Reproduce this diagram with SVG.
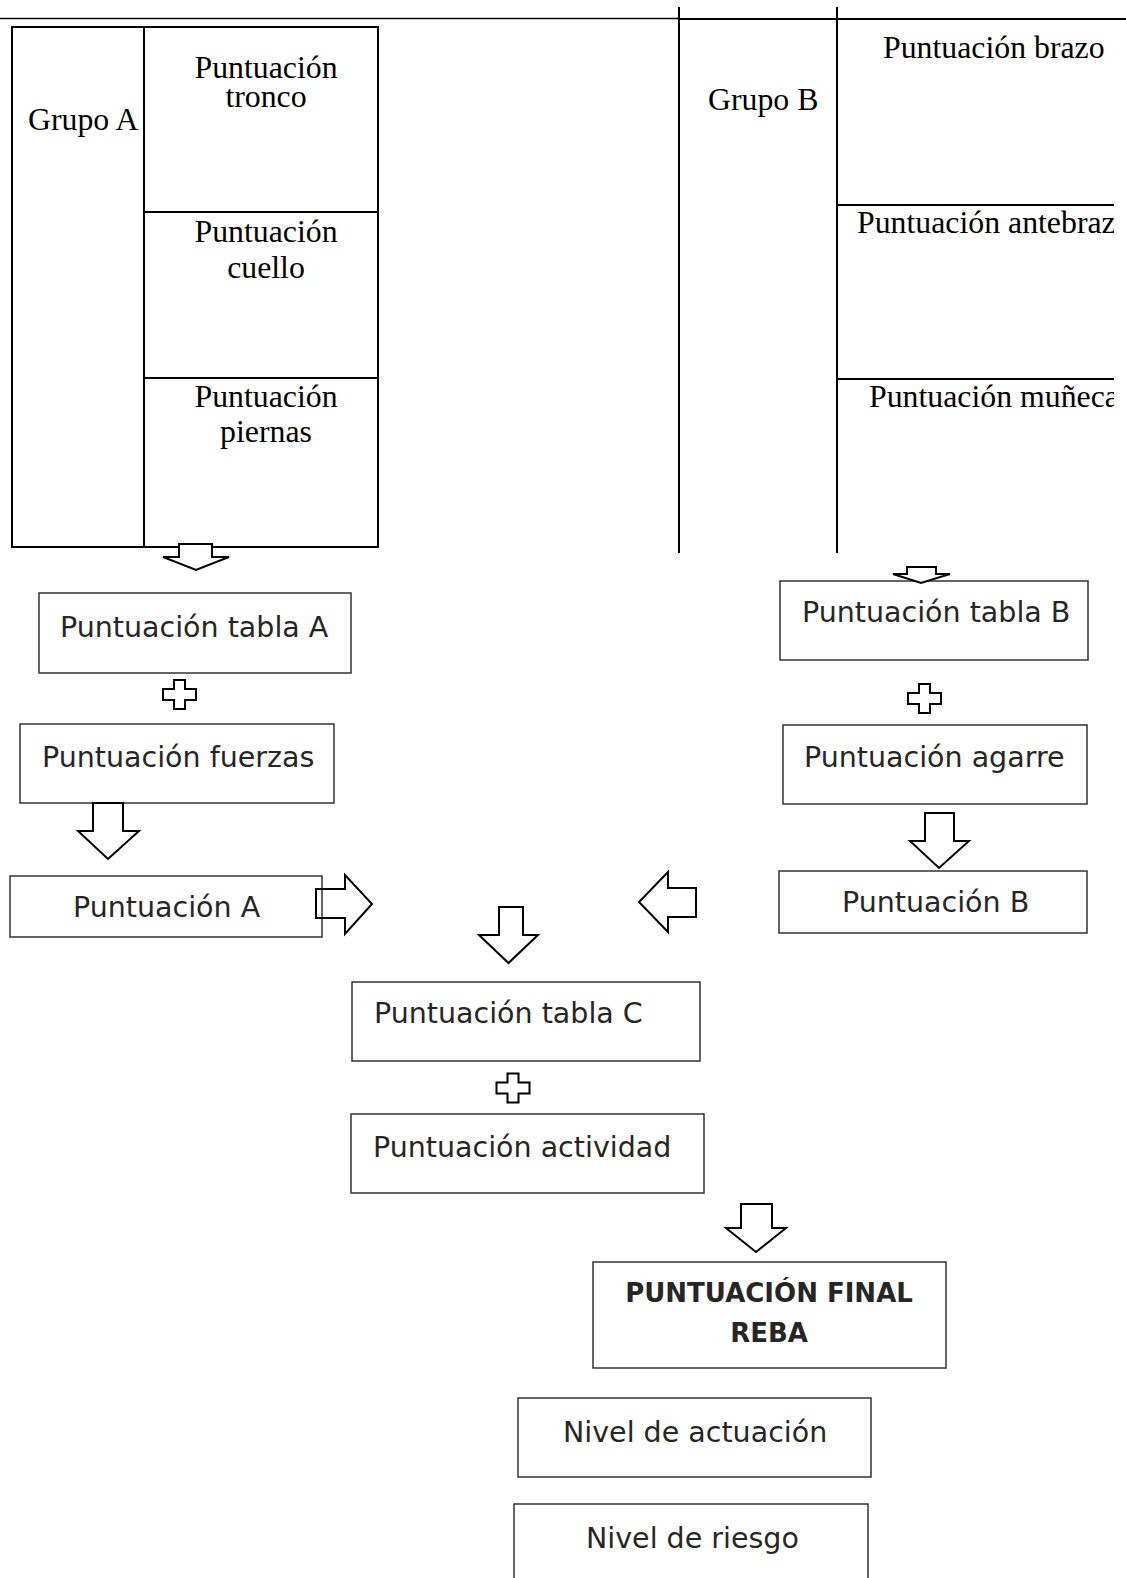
<svg xmlns="http://www.w3.org/2000/svg" width="1126" height="1578" viewBox="0 0 1126 1578">
<style>
.tbl{fill:none;stroke:#000;stroke-width:2}
.ser{font-family:"Liberation Serif","Times New Roman",serif;font-size:31.8px;fill:#000}
.box{fill:#fff;stroke:#333;stroke-width:1.5}
.san{font-family:"DejaVu Sans",Verdana,sans-serif;font-size:28.5px;fill:#262626}
.bold{font-family:"DejaVu Sans",Verdana,sans-serif;font-size:26px;font-weight:bold;fill:#262626}
.arr{fill:#fff;stroke:#000;stroke-width:2;stroke-linejoin:miter}
.arrn{fill:none;stroke:#000;stroke-width:2;stroke-linejoin:miter}
</style>
<defs>
<clipPath id="clipB"><rect x="837" y="0" width="277" height="560"/></clipPath>
<path id="plus" d="M-5.5,-14.5 H5.5 V-5.5 H16.5 V5.5 H5.5 V14.5 H-5.5 V5.5 H-16.5 V-5.5 H-5.5 Z"/>
</defs>

<g id="topline">
<line x1="0" y1="18.5" x2="679" y2="18.5" stroke="#000" stroke-width="1.3"/>
<line x1="679" y1="19" x2="1126" y2="19" stroke="#000" stroke-width="2"/>
</g>

<g id="grupoA">
<rect class="tbl" x="12" y="27" width="366" height="520"/>
<line class="tbl" x1="144" y1="27" x2="144" y2="547"/>
<line class="tbl" x1="144" y1="212" x2="378" y2="212"/>
<line class="tbl" x1="144" y1="378" x2="378" y2="378"/>
<text class="ser" x="28" y="130">Grupo A</text>
<text class="ser" x="266" y="78" text-anchor="middle">Puntuación</text>
<text class="ser" x="266" y="107" text-anchor="middle">tronco</text>
<text class="ser" x="266" y="242" text-anchor="middle">Puntuación</text>
<text class="ser" x="266" y="278" text-anchor="middle">cuello</text>
<text class="ser" x="266" y="407" text-anchor="middle">Puntuación</text>
<text class="ser" x="266" y="442" text-anchor="middle">piernas</text>
</g>

<g id="grupoB">
<line class="tbl" x1="679" y1="7" x2="679" y2="553"/>
<line class="tbl" x1="837" y1="7" x2="837" y2="553"/>
<line class="tbl" x1="837" y1="205" x2="1114" y2="205"/>
<line class="tbl" x1="837" y1="379" x2="1114" y2="379"/>
<text class="ser" x="708" y="110">Grupo B</text>
<text class="ser" x="883" y="58">Puntuación brazo</text>
<g clip-path="url(#clipB)">
<text class="ser" x="857" y="233">Puntuación antebraz</text>
<text class="ser" x="869" y="407">Puntuación muñeca</text>
</g>
</g>

<g id="tablaA">
<rect class="box" x="39" y="593" width="312" height="80"/>
<text class="san" x="60" y="637">Puntuación tabla A</text>
</g>
<g id="fuerzas">
<rect class="box" x="20" y="724" width="314" height="79"/>
<text class="san" x="42" y="767">Puntuación fuerzas</text>
</g>
<g id="puntA">
<rect class="box" x="10" y="876" width="312" height="61"/>
<text class="san" x="73" y="917">Puntuación A</text>
</g>
<g id="tablaB">
<rect class="box" x="780" y="581" width="308" height="79"/>
<text class="san" x="802" y="622">Puntuación tabla B</text>
</g>
<g id="agarre">
<rect class="box" x="783" y="725" width="304" height="79"/>
<text class="san" x="804" y="767">Puntuación agarre</text>
</g>
<g id="puntB">
<rect class="box" x="779" y="871" width="308" height="62"/>
<text class="san" x="842" y="912">Puntuación B</text>
</g>
<g id="tablaC">
<rect class="box" x="352" y="982" width="348" height="79"/>
<text class="san" x="374" y="1023">Puntuación tabla C</text>
</g>
<g id="actividad">
<rect class="box" x="351" y="1114" width="353" height="79"/>
<text class="san" x="373" y="1157">Puntuación actividad</text>
</g>
<g id="final">
<rect class="box" x="593" y="1262" width="353" height="106"/>
<text class="bold" x="769" y="1302" text-anchor="middle">PUNTUACIÓN FINAL</text>
<text class="bold" x="769" y="1342" text-anchor="middle">REBA</text>
</g>
<g id="actuacion">
<rect class="box" x="518" y="1398" width="353" height="79"/>
<text class="san" x="563" y="1442">Nivel de actuación</text>
</g>
<g id="riesgo">
<rect class="box" x="514" y="1504" width="354" height="90"/>
<text class="san" x="586" y="1548">Nivel de riesgo</text>
</g>

<g id="connectors">
<path class="arr" d="M179,544 H212 V557 H229 L196,570 L163,557 H179 Z"/>
<use href="#plus" x="179.5" y="694.5" class="arr"/>
<path class="arr" d="M93,803 H123 V831 H139 L108,859 L78,831 H93 Z"/>
<path class="arrn" d="M316,889 H345 V875 L372,904 L345,934 V918 H316 Z"/>
<path class="arr" d="M907,567 H936 V574 H950 L921,583 L893,574 H907 Z"/>
<use href="#plus" x="924.5" y="698.5" class="arr"/>
<path class="arr" d="M925,813 H954 V841 H969 L939,868 L910,841 H925 Z"/>
<path class="arr" d="M696,888 H668 V872 L639,902 L668,932 V917 H696 Z"/>
<path class="arr" d="M499,907 H523 V935 H538 L508.5,963 L479,935 H499 Z"/>
<use href="#plus" x="513" y="1088" class="arr"/>
<path class="arr" d="M741,1204 H772 V1228 H786 L756,1252 L726,1228 H741 Z"/>
</g>
</svg>
